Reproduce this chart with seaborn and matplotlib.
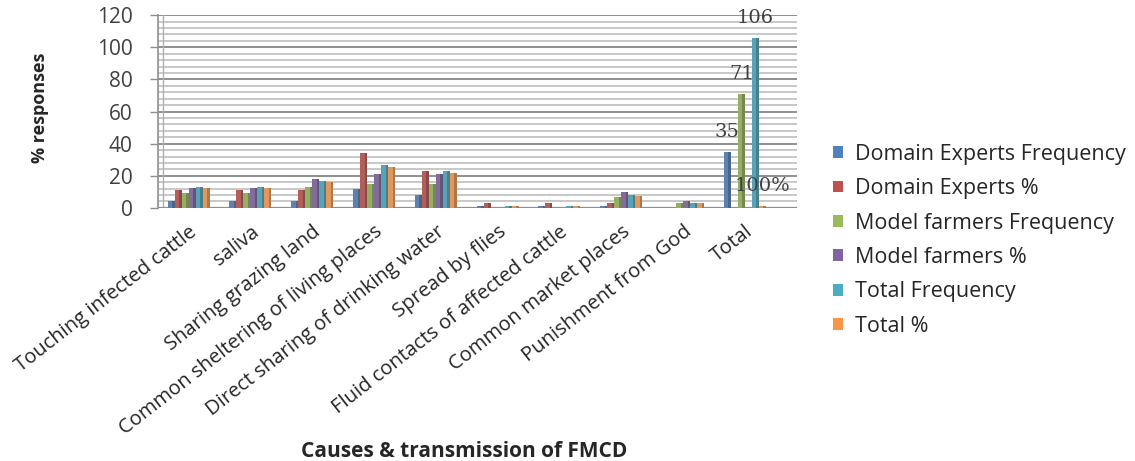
import numpy as np
import pandas as pd
import matplotlib
matplotlib.use("Agg")
import matplotlib.pyplot as plt
from matplotlib.patches import Patch
from matplotlib.ticker import MultipleLocator
import seaborn as sns

causes = [
    "Touching infected cattle",
    "saliva",
    "Sharing grazing land",
    "Common sheltering of living places",
    "Direct sharing of drinking water",
    "Spread by flies",
    "Fluid contacts of affected cattle",
    "Common market places",
    "Punishment from God",
    "Total",
]

series_names = [
    "Domain Experts Frequency",
    "Domain Experts %",
    "Model farmers Frequency",
    "Model farmers %",
    "Total Frequency",
    "Total %",
]

experts_freq = [4, 4, 4, 12, 8, 1, 1, 1, 0, 35]
experts_pct = [11.4, 11.4, 11.4, 34.3, 22.9, 2.9, 2.9, 2.9, 0, np.nan]
farmers_freq = [9, 9, 13, 15, 15, 0, 0, 7, 3, 71]
farmers_pct = [12.7, 12.7, 18.3, 21.1, 21.1, 0, 0, 9.9, 4.2, np.nan]
total_freq = [13, 13, 17, 27, 23, 1, 1, 8, 3, 106]
total_pct = [12.3, 12.3, 16.0, 25.5, 21.7, 0.9, 0.9, 7.5, 2.8, 1.0]  # Total row stored as a fraction

colors = ["#4F81BD", "#C0504D", "#9BBB59", "#8064A2", "#4BACC6", "#F79646"]

values = [experts_freq, experts_pct, farmers_freq, farmers_pct, total_freq, total_pct]
rows = []
for name, vals in zip(series_names, values):
    for cause, v in zip(causes, vals):
        rows.append({"cause": cause, "series": name, "value": v})
df = pd.DataFrame(rows).dropna()

sns.set_theme(style="white")
plt.rcParams["font.family"] = ["Open Sans", "DejaVu Sans"]

fig = plt.figure(figsize=(11.35, 4.61), dpi=100)
ax = fig.add_axes([0.139, 0.549, 0.563, 0.418])

sns.barplot(
    data=df, x="cause", y="value", hue="series",
    order=causes, hue_order=series_names, palette=colors,
    width=0.68, errorbar=None, ax=ax, legend=False,
    edgecolor="none", linewidth=0, zorder=3,
)

# darker right-hand shading on each bar for a column look
for patch in list(ax.patches):
    x0, w, h = patch.get_x(), patch.get_width(), patch.get_height()
    if not np.isfinite(h) or h <= 0:
        continue
    fc = np.array(matplotlib.colors.to_rgb(patch.get_facecolor()))
    ax.add_patch(plt.Rectangle((x0 + w * 0.65, 0), w * 0.35, h,
                               facecolor=fc * 0.78, edgecolor="none", zorder=3.5))

ax.set_xlim(-0.5, 9.84)
ax.set_ylim(0, 120)
ax.yaxis.set_major_locator(MultipleLocator(20))
ax.yaxis.set_minor_locator(MultipleLocator(4))
ax.grid(which="minor", axis="y", color="#c4c4c4", linewidth=1.3, zorder=0)
ax.grid(which="major", axis="y", color="#8e8e8e", linewidth=1.4, zorder=0.5)
ax.set_axisbelow(True)

for side in ["top", "right", "bottom"]:
    ax.spines[side].set_visible(False)
ax.spines["left"].set_color("#8e8e8e")
ax.spines["left"].set_linewidth(1.2)
ax.axvline(-0.42, color="#b0b0b0", linewidth=1.0, zorder=1)
ax.axhline(0, color="#8e8e8e", linewidth=1.6, zorder=2)

ax.tick_params(axis="y", which="major", left=True, length=6, width=1.0,
               color="#8e8e8e", pad=12, labelsize=15, labelcolor="#404040")
ax.tick_params(axis="y", which="minor", left=False)
ax.tick_params(axis="x", bottom=False, pad=4)
ax.set_xticks(range(len(causes)))
ax.set_xticklabels(causes, rotation=38, ha="right", va="top",
                   rotation_mode="anchor", fontsize=14.5, color="#262626")

ax.set_xlabel("Causes & transmission of FMCD", fontsize=15, fontweight="bold",
              color="#262626", labelpad=0)
ax.xaxis.set_label_coords(0.479, -1.21)
ax.set_ylabel("% responses", fontsize=13, fontweight="bold", color="#262626")
ax.yaxis.set_label_coords(-0.17, 0.52)

# value labels on the Total group
total_idx = causes.index("Total")
label_specs = [(0, experts_freq, "{:.0f}"), (2, farmers_freq, "{:.0f}"),
               (4, total_freq, "{:.0f}"), (5, total_pct, "{:.0%}")]
n = len(series_names)
bw = 0.68 / n
for s_idx, vals, fmt in label_specs:
    xc = total_idx - 0.34 + bw * (s_idx + 0.5)
    v = vals[total_idx]
    ax.annotate(fmt.format(v), xy=(xc, v), xytext=(0, 20), textcoords="offset pixels",
                ha="center", va="center", fontsize=14, color="#404040",
                family="DejaVu Serif", zorder=6)

handles = [Patch(facecolor=c, edgecolor="none") for c in colors]
fig.legend(handles, series_names, loc="upper left", bbox_to_anchor=(0.717, 0.73),
           frameon=False, fontsize=15.5, handlelength=0.47, handleheight=0.47,
           handletextpad=0.55, labelspacing=0.62, labelcolor="#262626")

fig.savefig("out.png", dpi=100)
